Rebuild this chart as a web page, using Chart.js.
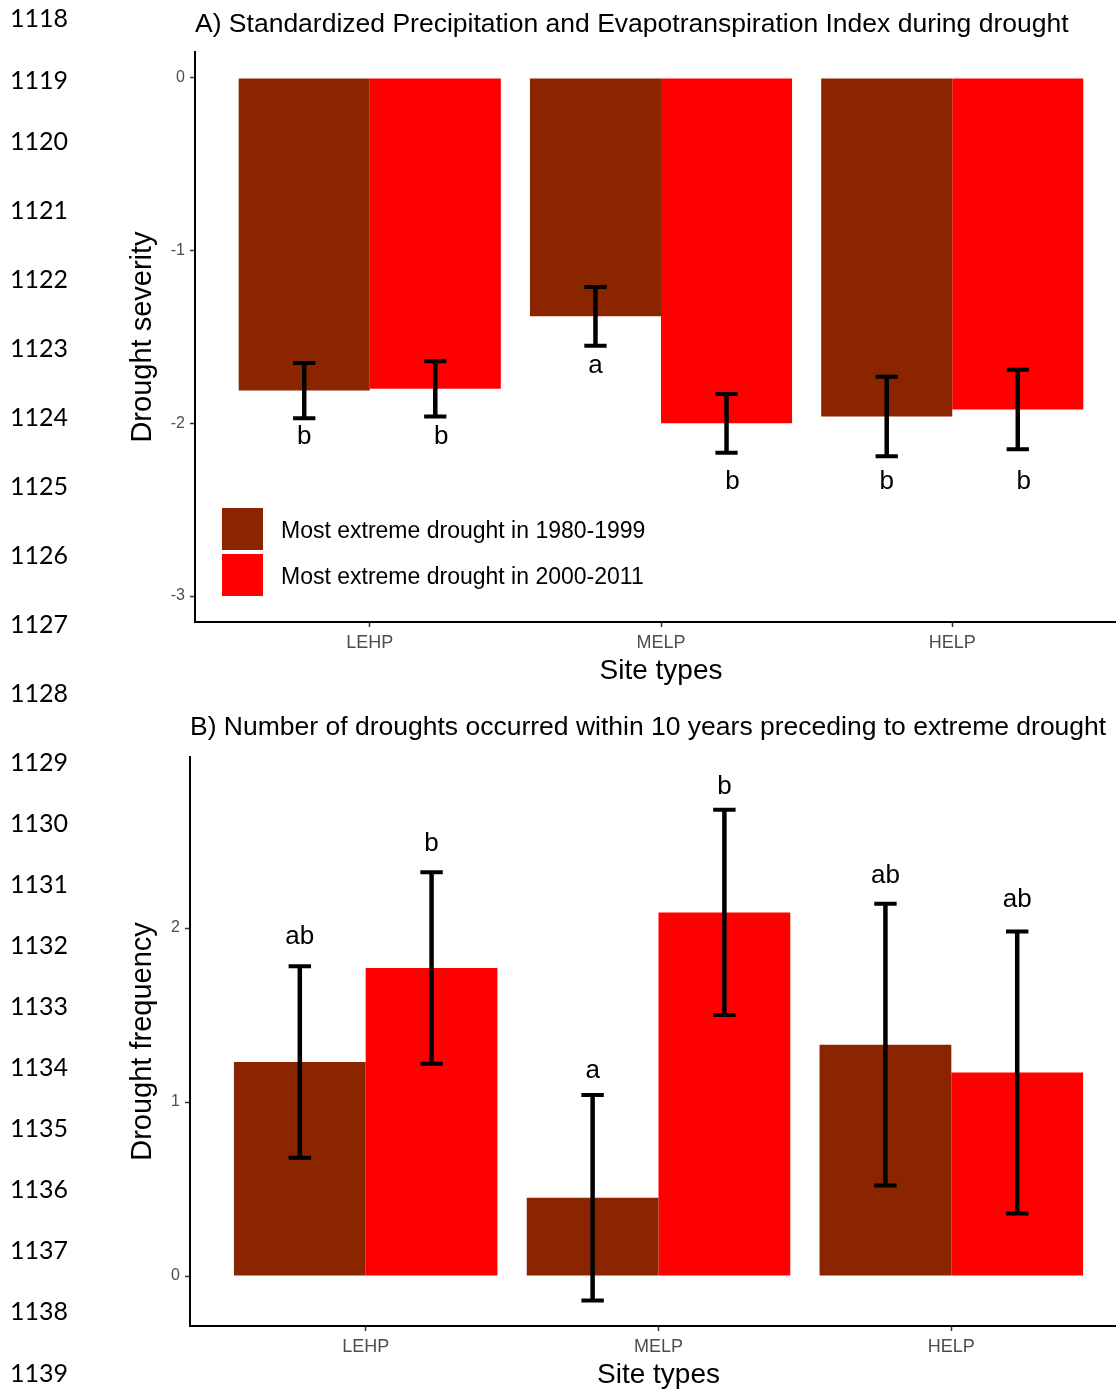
<!DOCTYPE html>
<html>
<head>
<meta charset="utf-8">
<script src="https://cdn.jsdelivr.net/npm/chart.js@4.4.1/dist/chart.umd.min.js"></script>
<style>
    html, body { margin: 0; padding: 0; background: #fff; overflow: hidden; }
    #page { position: relative; width: 1116px; height: 1392px; overflow: hidden; }
    #page canvas { position: absolute; left: 0; }
    .ln { position: absolute; left: 10px; font-family: Lato, 'Liberation Sans', sans-serif; font-size: 25px; line-height: 30px; color: #000; }
</style>
</head>
<body>
<div id="page">
    <canvas id="chartA" width="1127" height="700" style="top:0px"></canvas>
    <canvas id="chartB" width="1127" height="716" style="top:688px"></canvas>

    <div class="ln" style="top:2px">1118</div>
    <div class="ln" style="top:64px">1119</div>
    <div class="ln" style="top:125px">1120</div>
    <div class="ln" style="top:194px">1121</div>
    <div class="ln" style="top:263px">1122</div>
    <div class="ln" style="top:332px">1123</div>
    <div class="ln" style="top:401px">1124</div>
    <div class="ln" style="top:470px">1125</div>
    <div class="ln" style="top:539px">1126</div>
    <div class="ln" style="top:608px">1127</div>
    <div class="ln" style="top:677px">1128</div>
    <div class="ln" style="top:746px">1129</div>
    <div class="ln" style="top:807px">1130</div>
    <div class="ln" style="top:868px">1131</div>
    <div class="ln" style="top:929px">1132</div>
    <div class="ln" style="top:990px">1133</div>
    <div class="ln" style="top:1051px">1134</div>
    <div class="ln" style="top:1112px">1135</div>
    <div class="ln" style="top:1173px">1136</div>
    <div class="ln" style="top:1234px">1137</div>
    <div class="ln" style="top:1295px">1138</div>
    <div class="ln" style="top:1357px">1139</div>
</div>

<script>
// Drought figure - panels A (SPEI) and B (drought frequency)

const siteTypes = ['LEHP', 'MELP', 'HELP'];
const periods = ['Most extreme drought in 1980-1999', 'Most extreme drought in 2000-2011'];
const periodColors = ['#8B2500', '#FF0000'];

// A) SPEI during drought
const speiEarly = [-1.81, -1.38, -1.96];
const speiLate = [-1.80, -2.00, -1.92];
const speiEarlySE = [0.16, 0.17, 0.23];
const speiLateSE = [0.16, 0.17, 0.23];
const speiEarlyLetters = ['b', 'a', 'b'];
const speiLateLetters = ['b', 'b', 'b'];
const speiEarlyLetterY = [-2.12, -1.71, -2.38];
const speiLateLetterY = [-2.12, -2.38, -2.38];
const speiTicks = [-3, -2, -1, 0];

// B) droughts in the 10 years before the extreme drought
const freqEarly = [1.23, 0.45, 1.33];
const freqLate = [1.77, 2.09, 1.17];
const freqEarlySE = [0.55, 0.59, 0.81];
const freqLateSE = [0.55, 0.59, 0.81];
const freqEarlyLetters = ['ab', 'a', 'ab'];
const freqLateLetters = ['b', 'b', 'ab'];
const freqEarlyLetterY = [1.91, 1.14, 2.26];
const freqLateLetterY = [2.44, 2.77, 2.12];
const freqTicks = [0, 1, 2];

const FONT = "'Liberation Sans', Arial, Helvetica, sans-serif";

Chart.defaults.font.family = FONT;
Chart.defaults.color = '#4d4d4d';

// error bars, letters, panel title and legend
const panelDecor = {
    id: 'panelDecor',
    afterDatasetsDraw(chart, args, opts) {
        const ctx = chart.ctx;
        const yScale = chart.scales.y;
        ctx.save();
        chart.data.datasets.forEach((ds, di) => {
            const meta = chart.getDatasetMeta(di);
            const shift = di === 1 ? opts.lateLetterShift : 0;
            meta.data.forEach((bar, i) => {
                const v = ds.data[i].y;
                const top = yScale.getPixelForValue(v + ds.se[i]);
                const bot = yScale.getPixelForValue(v - ds.se[i]);
                const half = bar.width * 0.085;
                ctx.strokeStyle = '#000';
                ctx.lineWidth = 4.5;
                ctx.beginPath();
                ctx.moveTo(bar.x, top);
                ctx.lineTo(bar.x, bot);
                ctx.stroke();
                ctx.lineWidth = 4;
                ctx.beginPath();
                ctx.moveTo(bar.x - half, top);
                ctx.lineTo(bar.x + half, top);
                ctx.moveTo(bar.x - half, bot);
                ctx.lineTo(bar.x + half, bot);
                ctx.stroke();

                ctx.fillStyle = '#000';
                ctx.font = '26px ' + FONT;
                ctx.textAlign = 'center';
                ctx.textBaseline = 'alphabetic';
                ctx.fillText(ds.letters[i], bar.x + shift, yScale.getPixelForValue(ds.letterY[i]));
            });
        });
        ctx.restore();
    },
    afterDraw(chart, args, opts) {
        const ctx = chart.ctx;
        const area = chart.chartArea;
        ctx.save();
        ctx.fillStyle = '#000';
        ctx.font = '26.5px ' + FONT;
        ctx.textAlign = 'left';
        ctx.textBaseline = 'alphabetic';
        ctx.fillText(opts.title, area.left, opts.titleY);

        if (opts.legend) {
            ctx.font = '23px ' + FONT;
            ctx.textBaseline = 'middle';
            chart.data.datasets.forEach((ds, i) => {
                const y0 = opts.legendY + i * 46;
                ctx.fillStyle = ds.backgroundColor;
                ctx.fillRect(opts.legendX, y0, 41, 42);
                ctx.fillStyle = '#000';
                ctx.fillText(ds.label, opts.legendX + 59, y0 + 23.5);
            });
        }
        ctx.restore();
    }
};

function makePanel(id, cfg) {
    const toPoints = arr => arr.map((v, i) => ({ x: i + 1, y: v }));
    return new Chart(document.getElementById(id), {
        type: 'bar',
        data: {
            datasets: [{
                label: periods[0],
                data: toPoints(cfg.early),
                backgroundColor: periodColors[0],
                se: cfg.earlySE,
                letters: cfg.earlyLetters,
                letterY: cfg.earlyLetterY,
                categoryPercentage: 0.9,
                barPercentage: 1,
                borderWidth: 0
            }, {
                label: periods[1],
                data: toPoints(cfg.late),
                backgroundColor: periodColors[1],
                se: cfg.lateSE,
                letters: cfg.lateLetters,
                letterY: cfg.lateLetterY,
                categoryPercentage: 0.9,
                barPercentage: 1,
                borderWidth: 0
            }]
        },
        options: {
            responsive: false,
            animation: false,
            devicePixelRatio: 1,
            layout: { padding: { top: cfg.plotTop, left: 0, right: 0, bottom: 0 } },
            plugins: {
                legend: { display: false },
                tooltip: { enabled: false },
                panelDecor: {
                    title: cfg.title,
                    titleY: cfg.titleY,
                    legend: cfg.legend,
                    legendX: 222,
                    legendY: 508,
                    lateLetterShift: cfg.lateLetterShift
                }
            },
            scales: {
                x: {
                    type: 'linear',
                    min: 0.4,
                    max: 3.6,
                    offset: false,
                    afterBuildTicks: s => { s.ticks = siteTypes.map((_, i) => ({ value: i + 1 })); },
                    afterFit: s => { s.height = 78; },
                    ticks: {
                        callback: v => siteTypes[v - 1],
                        font: { size: 18 },
                        color: '#4d4d4d',
                        padding: 5,
                        maxRotation: 0
                    },
                    grid: { drawOnChartArea: false, offset: false, tickLength: 5, tickColor: '#333', tickWidth: 1.5 },
                    border: { display: true, color: '#000', width: 2 },
                    title: {
                        display: true,
                        text: 'Site types',
                        color: '#000',
                        font: { size: 28 },
                        padding: { top: 0, bottom: 11.5 }
                    }
                },
                y: {
                    type: 'linear',
                    min: cfg.yMin,
                    max: cfg.yMax,
                    afterBuildTicks: s => { s.ticks = cfg.ticks.map(v => ({ value: v })); },
                    afterFit: s => { s.width = cfg.plotLeft; },
                    ticks: {
                        callback: v => String(v),
                        font: { size: 16 },
                        color: '#4d4d4d',
                        padding: 5
                    },
                    grid: { drawOnChartArea: false, tickLength: 5, tickColor: '#333', tickWidth: 1.5 },
                    border: { display: true, color: '#000', width: 2 },
                    title: {
                        display: true,
                        text: cfg.yTitle,
                        color: '#000',
                        font: { size: 29 },
                        padding: { top: 126, bottom: 0 }
                    }
                }
            }
        },
        plugins: [panelDecor]
    });
}

makePanel('chartA', {
    title: 'A) Standardized Precipitation and Evapotranspiration Index during drought',
    titleY: 32,
    legend: true,
    lateLetterShift: 6,
    plotTop: 52,
    plotLeft: 195,
    yMin: -3.15,
    yMax: 0.15,
    ticks: speiTicks,
    yTitle: 'Drought severity',
    early: speiEarly, late: speiLate,
    earlySE: speiEarlySE, lateSE: speiLateSE,
    earlyLetters: speiEarlyLetters, lateLetters: speiLateLetters,
    earlyLetterY: speiEarlyLetterY, lateLetterY: speiLateLetterY
});

makePanel('chartB', {
    title: 'B) Number of droughts occurred within 10 years preceding to extreme drought',
    titleY: 47,
    legend: false,
    lateLetterShift: 0,
    plotTop: 69,
    plotLeft: 190,
    yMin: -0.287,
    yMax: 2.983,
    ticks: freqTicks,
    yTitle: 'Drought frequency',
    early: freqEarly, late: freqLate,
    earlySE: freqEarlySE, lateSE: freqLateSE,
    earlyLetters: freqEarlyLetters, lateLetters: freqLateLetters,
    earlyLetterY: freqEarlyLetterY, lateLetterY: freqLateLetterY
});
</script>
</body>
</html>
